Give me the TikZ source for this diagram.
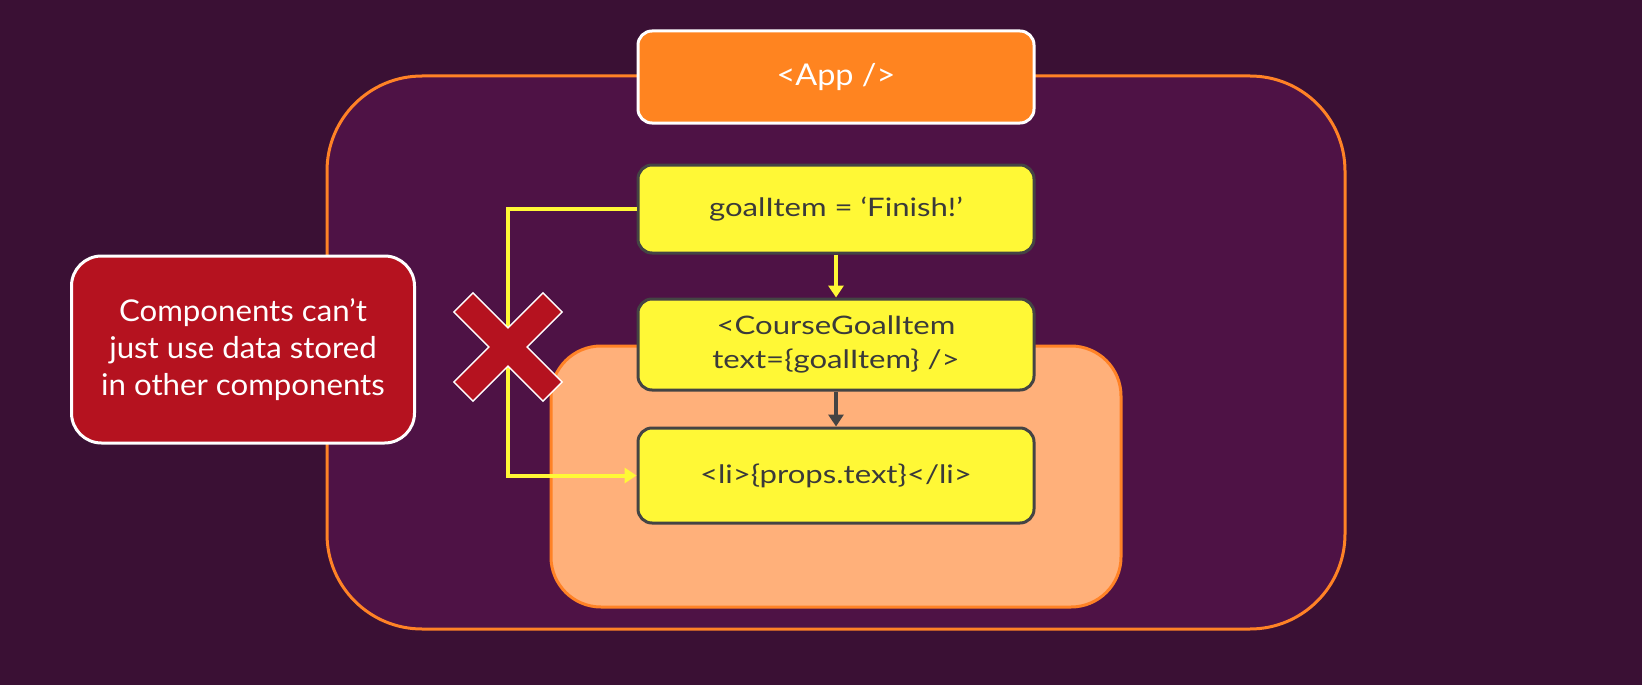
\documentclass[tikz,border=0pt]{standalone}
\usepackage{fontspec}
\setmainfont{Lato}
\newfontfamily\ywide[FakeStretch=1.22]{Lato}
\newfontfamily\awide[FakeStretch=1.08]{Lato}
\newfontfamily\rwide[FakeStretch=1.04]{Lato}
\usetikzlibrary{arrows.meta}
\definecolor{bg}{HTML}{3A1034}
\definecolor{panel}{HTML}{4E1245}
\definecolor{orng}{HTML}{FF8226}
\definecolor{appfill}{HTML}{FF8420}
\definecolor{lightorng}{HTML}{FFB07A}
\definecolor{ylw}{HTML}{FFF836}
\definecolor{dgray}{HTML}{444444}
\definecolor{txtgray}{HTML}{3A3A3A}
\definecolor{redbox}{HTML}{B5121F}
\tikzset{
  appbox/.style={draw=white, line width=3pt, fill=appfill, rounded corners=14pt,
    minimum width=396pt, minimum height=92pt, inner sep=0pt, text=white,
    font=\awide\fontsize{30}{36}\selectfont},
  ybox/.style={draw=dgray, line width=3pt, fill=ylw, rounded corners=14pt,
    minimum width=396pt, inner sep=0pt, text=txtgray, align=center,
    font=\ywide\fontsize{25.5}{33.3}\selectfont},
  rednote/.style={draw=white, line width=3pt, fill=redbox, rounded corners=30pt,
    minimum width=343pt, minimum height=187pt, inner sep=0pt, text=white, align=center,
    font=\rwide\fontsize{30}{36.7}\selectfont},
  yline/.style={draw=ylw, line width=4pt},
  yarrow/.style={draw=ylw, line width=4pt, -{Triangle[length=12pt,width=15pt]}},
  darrow/.style={draw=dgray, line width=4pt, -{Triangle[length=12pt,width=15pt]}},
  xmark/.style={fill=redbox, draw=white, line width=1.5pt}
}
\begin{document}
\begin{tikzpicture}[x=1pt,y=-1pt]
\fill[bg] (0,0) rectangle (1642,685);
\useasboundingbox (0,0) rectangle (1642,685);
% containers
\draw[orng, line width=3pt, fill=panel, rounded corners=95pt] (327,76) rectangle (1345,629);
\draw[orng, line width=3pt, fill=lightorng, rounded corners=50pt] (551,346) rectangle (1121,607);
% nodes
\node[appbox] (app) at (836,77) {<App />};
\node[ybox, minimum height=88pt] (goal) at (836,209) {goalItem = ‘Finish!’};
\node[ybox, minimum height=91pt] (course) at (836,344.5) {<CourseGoalItem\\text=\{goalItem\} />};
\node[ybox, minimum height=95pt] (li) at (836,475.5) {<li>\{props.text\}</li>};
\node[rednote] (note) at (243,349.5) {Components can’t\\just use data stored\\in other components};
% connectors
\coordinate (bend) at (508,209);
\draw[yline, -{Triangle[length=12pt,width=15pt]}] (goal.west) -- (bend) |- (li.west);
\draw[yarrow] (goal.south) -- (course.north);
\draw[darrow] (course.south) -- (li.north);
% cross mark
\begin{scope}[shift={(508,347)}, rotate=45]
\path[xmark] (13.5,63) -- (13.5,13.5) -- (63,13.5) -- (63,-13.5) -- (13.5,-13.5) -- (13.5,-63)
  -- (-13.5,-63) -- (-13.5,-13.5) -- (-63,-13.5) -- (-63,13.5) -- (-13.5,13.5) -- (-13.5,63) -- cycle;
\end{scope}
\end{tikzpicture}
\end{document}
